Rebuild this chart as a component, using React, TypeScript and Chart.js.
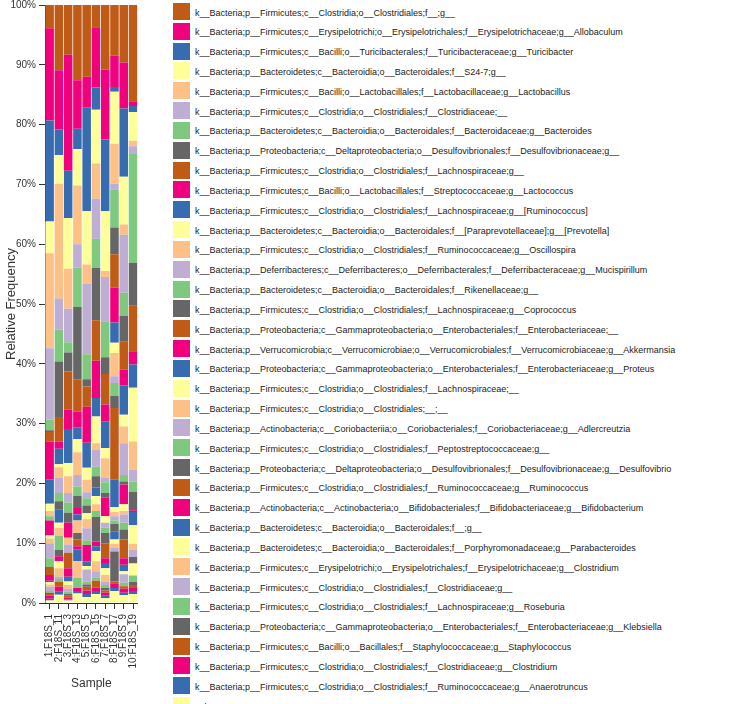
import React, { useEffect, useRef } from 'react';
import { Chart, registerables } from 'chart.js';

Chart.register(...registerables);

const samples = ['1:F18S_1', '2:F18S_11', '3:F18S_3', '4:F18S_13', '5:F18S_5', '6:F18S_15', '7:F18S_7', '8:F18S_17', '9:F18S_9', '10:F18S_19'];

const palette = ['#bf5b17', '#f0027f', '#386cb0', '#ffff99', '#fdc086', '#beaed4', '#7fc97f', '#666666'];

// Relative frequency (%) per sample, series listed in legend order (top of stack first)
const clostridialesNA = [3.9, 10.9, 8.3, 12.6, 12.0, 3.7, 10.8, 8.5, 9.6, 16.1];
const allobaculum = [15.4, 9.9, 19.4, 8.1, 5.2, 10.1, 11.7, 5.2, 7.7, 0.8];
const turicibacter = [16.9, 4.3, 7.9, 3.4, 17.3, 3.7, 12.0, 0.8, 11.4, 1.0];
const s24_7 = [5.3, 4.8, 8.5, 6.1, 8.9, 9.0, 10.0, 8.7, 8.0, 4.8];
const lactobacillus = [15.9, 19.2, 6.7, 9.8, 3.2, 5.9, 1.0, 6.7, 1.7, 0.9];
const clostridiaceaeNA = [11.9, 5.2, 5.6, 3.9, 11.8, 6.7, 7.4, 0.9, 9.7, 1.3];
const bacteroides = [1.8, 5.3, 1.7, 6.6, 4.2, 4.9, 6.0, 6.4, 3.9, 18.2];
const desulfovibrionaceaeG = [0.3, 9.3, 3.2, 12.1, 1.2, 8.7, 2.8, 4.5, 4.3, 7.2];
const lachnospiraceaeG = [1.6, 4.1, 6.4, 5.4, 3.4, 6.8, 5.1, 5.6, 4.7, 7.6];
const lactococcus = [6.3, 1.2, 3.2, 2.6, 6.0, 6.2, 2.8, 5.8, 2.6, 2.2];
const ruminococcusBr = [4.1, 2.6, 5.7, 2.0, 4.2, 3.1, 4.5, 3.4, 4.9, 3.9];
const prevotellaBr = [1.2, 0.5, 2.2, 2.2, 2.0, 4.5, 1.7, 1.7, 2.0, 9.0];
const oscillospira = [0.9, 1.7, 2.8, 3.8, 2.1, 1.1, 3.3, 3.9, 2.8, 4.7];
const mucispirillum = [0, 2.6, 1.6, 1.9, 1.0, 2.8, 0.7, 1.1, 5.3, 2.0];
const rikenellaceaeG = [0.7, 1.4, 1.7, 1.6, 1.2, 1.6, 1.8, 2.2, 1.1, 1.7];
const coprococcus = [0, 1.4, 1.7, 2.0, 1.3, 1.9, 0.8, 2.0, 0.5, 3.1];
const enterobacteriaceaeNA = [0, 0, 0, 0, 0, 0, 0, 12.0, 0, 0];
const akkermansia = [2.5, 0, 2.5, 1.1, 0, 0, 3.1, 0, 3.3, 0.3];
const proteus = [0, 2.2, 0, 1.0, 0, 1.4, 0, 4.6, 0, 2.2];
const lachnospiraceaeNA = [0.5, 0.8, 0, 0, 1.0, 1.4, 1.1, 0.8, 1.1, 3.1];
const clostridialesUnassigned = [0.8, 1.4, 1.1, 2.1, 1.5, 1.1, 0, 0.7, 0.6, 1.0];
const adlercreutzia = [2.5, 0, 1.4, 0, 2.0, 0, 0.8, 0.7, 1.4, 1.2];
const peptostreptococcaceaeG = [1.5, 2.3, 0, 0, 0.8, 1.0, 0.9, 0.6, 1.1, 0];
const desulfovibrio = [0, 1.1, 0, 1.1, 0, 4.1, 1.7, 1.2, 1.7, 1.1];
const ruminococcus = [1.3, 0, 2.6, 1.1, 0, 0, 2.5, 0, 3.1, 0];
const bifidobacterium = [1.0, 0.8, 1.4, 0.5, 2.7, 0.8, 0.8, 0, 1.1, 0];
const bacteroidalesNA = [0.2, 0, 0.8, 2.0, 0.8, 0.8, 0.9, 1.4, 1.1, 0];
const parabacteroides = [0.4, 1.2, 0.6, 0, 0.6, 1.7, 1.1, 0.7, 0.5, 2.0];
const erysipeloClostridium = [0.4, 1.4, 0.6, 2.8, 0, 1.7, 1.1, 0.7, 0, 0];
const clostridiaceaeG = [0.7, 0.4, 0.5, 0, 2.0, 1.0, 0.6, 0.6, 1.4, 0];
const roseburia = [0.3, 0.5, 0.4, 1.7, 0.5, 0.6, 0.5, 0, 0.6, 1.1];
const klebsiella = [0.2, 0, 0.3, 0, 0.4, 0, 0.4, 5.0, 0, 0.5];
const staphylococcus = [0.3, 0.8, 0.3, 0, 0.6, 1.1, 0.4, 0.3, 0.4, 0.5];
const clostridium = [0.5, 0.8, 0.3, 0.5, 0.6, 0.6, 0.5, 0.8, 0.7, 0.5];
const anaerotruncus = [0.3, 0.5, 0.2, 0.4, 0.5, 0.5, 0.4, 0.5, 0.4, 0.5];
const others = [0.4, 1.4, 0.4, 1.6, 1.0, 1.5, 0.8, 2.0, 1.3, 1.5];

const taxa = [
  'k__Bacteria;p__Firmicutes;c__Clostridia;o__Clostridiales;f__;g__',
  'k__Bacteria;p__Firmicutes;c__Erysipelotrichi;o__Erysipelotrichales;f__Erysipelotrichaceae;g__Allobaculum',
  'k__Bacteria;p__Firmicutes;c__Bacilli;o__Turicibacterales;f__Turicibacteraceae;g__Turicibacter',
  'k__Bacteria;p__Bacteroidetes;c__Bacteroidia;o__Bacteroidales;f__S24-7;g__',
  'k__Bacteria;p__Firmicutes;c__Bacilli;o__Lactobacillales;f__Lactobacillaceae;g__Lactobacillus',
  'k__Bacteria;p__Firmicutes;c__Clostridia;o__Clostridiales;f__Clostridiaceae;__',
  'k__Bacteria;p__Bacteroidetes;c__Bacteroidia;o__Bacteroidales;f__Bacteroidaceae;g__Bacteroides',
  'k__Bacteria;p__Proteobacteria;c__Deltaproteobacteria;o__Desulfovibrionales;f__Desulfovibrionaceae;g__',
  'k__Bacteria;p__Firmicutes;c__Clostridia;o__Clostridiales;f__Lachnospiraceae;g__',
  'k__Bacteria;p__Firmicutes;c__Bacilli;o__Lactobacillales;f__Streptococcaceae;g__Lactococcus',
  'k__Bacteria;p__Firmicutes;c__Clostridia;o__Clostridiales;f__Lachnospiraceae;g__[Ruminococcus]',
  'k__Bacteria;p__Bacteroidetes;c__Bacteroidia;o__Bacteroidales;f__[Paraprevotellaceae];g__[Prevotella]',
  'k__Bacteria;p__Firmicutes;c__Clostridia;o__Clostridiales;f__Ruminococcaceae;g__Oscillospira',
  'k__Bacteria;p__Deferribacteres;c__Deferribacteres;o__Deferribacterales;f__Deferribacteraceae;g__Mucispirillum',
  'k__Bacteria;p__Bacteroidetes;c__Bacteroidia;o__Bacteroidales;f__Rikenellaceae;g__',
  'k__Bacteria;p__Firmicutes;c__Clostridia;o__Clostridiales;f__Lachnospiraceae;g__Coprococcus',
  'k__Bacteria;p__Proteobacteria;c__Gammaproteobacteria;o__Enterobacteriales;f__Enterobacteriaceae;__',
  'k__Bacteria;p__Verrucomicrobia;c__Verrucomicrobiae;o__Verrucomicrobiales;f__Verrucomicrobiaceae;g__Akkermansia',
  'k__Bacteria;p__Proteobacteria;c__Gammaproteobacteria;o__Enterobacteriales;f__Enterobacteriaceae;g__Proteus',
  'k__Bacteria;p__Firmicutes;c__Clostridia;o__Clostridiales;f__Lachnospiraceae;__',
  'k__Bacteria;p__Firmicutes;c__Clostridia;o__Clostridiales;__;__',
  'k__Bacteria;p__Actinobacteria;c__Coriobacteriia;o__Coriobacteriales;f__Coriobacteriaceae;g__Adlercreutzia',
  'k__Bacteria;p__Firmicutes;c__Clostridia;o__Clostridiales;f__Peptostreptococcaceae;g__',
  'k__Bacteria;p__Proteobacteria;c__Deltaproteobacteria;o__Desulfovibrionales;f__Desulfovibrionaceae;g__Desulfovibrio',
  'k__Bacteria;p__Firmicutes;c__Clostridia;o__Clostridiales;f__Ruminococcaceae;g__Ruminococcus',
  'k__Bacteria;p__Actinobacteria;c__Actinobacteria;o__Bifidobacteriales;f__Bifidobacteriaceae;g__Bifidobacterium',
  'k__Bacteria;p__Bacteroidetes;c__Bacteroidia;o__Bacteroidales;f__;g__',
  'k__Bacteria;p__Bacteroidetes;c__Bacteroidia;o__Bacteroidales;f__Porphyromonadaceae;g__Parabacteroides',
  'k__Bacteria;p__Firmicutes;c__Erysipelotrichi;o__Erysipelotrichales;f__Erysipelotrichaceae;g__Clostridium',
  'k__Bacteria;p__Firmicutes;c__Clostridia;o__Clostridiales;f__Clostridiaceae;g__',
  'k__Bacteria;p__Firmicutes;c__Clostridia;o__Clostridiales;f__Lachnospiraceae;g__Roseburia',
  'k__Bacteria;p__Proteobacteria;c__Gammaproteobacteria;o__Enterobacteriales;f__Enterobacteriaceae;g__Klebsiella',
  'k__Bacteria;p__Firmicutes;c__Bacilli;o__Bacillales;f__Staphylococcaceae;g__Staphylococcus',
  'k__Bacteria;p__Firmicutes;c__Clostridia;o__Clostridiales;f__Clostridiaceae;g__Clostridium',
  'k__Bacteria;p__Firmicutes;c__Clostridia;o__Clostridiales;f__Ruminococcaceae;g__Anaerotruncus',
  'Others',
];

const seriesValues = [
  clostridialesNA, allobaculum, turicibacter, s24_7, lactobacillus, clostridiaceaeNA, bacteroides,
  desulfovibrionaceaeG, lachnospiraceaeG, lactococcus, ruminococcusBr, prevotellaBr, oscillospira,
  mucispirillum, rikenellaceaeG, coprococcus, enterobacteriaceaeNA, akkermansia, proteus,
  lachnospiraceaeNA, clostridialesUnassigned, adlercreutzia, peptostreptococcaceaeG, desulfovibrio,
  ruminococcus, bifidobacterium, bacteroidalesNA, parabacteroides, erysipeloClostridium,
  clostridiaceaeG, roseburia, klebsiella, staphylococcus, clostridium, anaerotruncus, others,
];

const FONT = 'Arial, "Liberation Sans", Helvetica, sans-serif';

export default function App() {
  const canvasRef = useRef<HTMLCanvasElement>(null);

  useEffect(() => {
    if (!canvasRef.current) return;
    const datasets = seriesValues
      .map((vals, i) => ({
        label: taxa[i],
        data: vals,
        backgroundColor: palette[i % palette.length],
        borderWidth: 0,
        barPercentage: 0.92,
        categoryPercentage: 1.0,
      }))
      .reverse();

    const chart = new Chart(canvasRef.current, {
      type: 'bar',
      data: { labels: samples, datasets },
      options: {
        responsive: false,
        animation: false,
        layout: { padding: { left: 0, right: 0, top: 0, bottom: 0 } },
        font: { family: FONT },
        plugins: { legend: { display: false }, tooltip: { enabled: false } },
        scales: {
          x: {
            stacked: true,
            grid: { display: true, drawOnChartArea: false, offset: false, tickLength: 6, color: '#333', tickColor: '#333' },
            border: { display: true, color: '#333' },
            ticks: { minRotation: 90, maxRotation: 90, autoSkip: false, padding: 5, color: '#333', font: { size: 10, family: FONT } },
            title: { display: true, text: 'Sample', color: '#333', font: { size: 12, family: FONT }, padding: { top: 4, bottom: 15 } },
            afterFit: (s: any) => { s.height = 103; },
          },
          y: {
            stacked: true,
            min: 0,
            max: 100,
            grid: { display: true, drawOnChartArea: false, tickLength: 6, color: '#333', tickColor: '#333' },
            border: { display: true, color: '#333' },
            ticks: { stepSize: 10, padding: 3, color: '#333', font: { size: 10, family: FONT }, callback: (v: any) => v + '%' },
            title: { display: true, text: 'Relative Frequency', color: '#333', font: { size: 13, family: FONT }, padding: { top: 4, bottom: 0 } },
            afterFit: (s: any) => { s.width = 45; },
          },
        },
      } as any,
    });
    return () => chart.destroy();
  }, []);

  const rowStep = 19.83;

  return (
    <div style={{ position: 'absolute', left: 0, top: 0, width: 732, height: 704, overflow: 'hidden', background: '#fff' }}>
      <canvas ref={canvasRef} width={150} height={710} style={{ position: 'absolute', left: 0, top: -4, display: 'block' }} />
      {taxa.map((t, i) => (
        <div
          key={i}
          style={{
            position: 'absolute',
            left: 173,
            top: 3 + i * rowStep,
            height: 17,
            display: 'flex',
            alignItems: 'center',
            whiteSpace: 'nowrap',
          }}
        >
          <div style={{ width: 17, height: 17, background: palette[i % palette.length], flex: 'none' }} />
          <span style={{ marginLeft: 5, fontFamily: FONT, fontSize: 9, color: '#222', position: 'relative', top: 1 }}>{t}</span>
        </div>
      ))}
    </div>
  );
}
